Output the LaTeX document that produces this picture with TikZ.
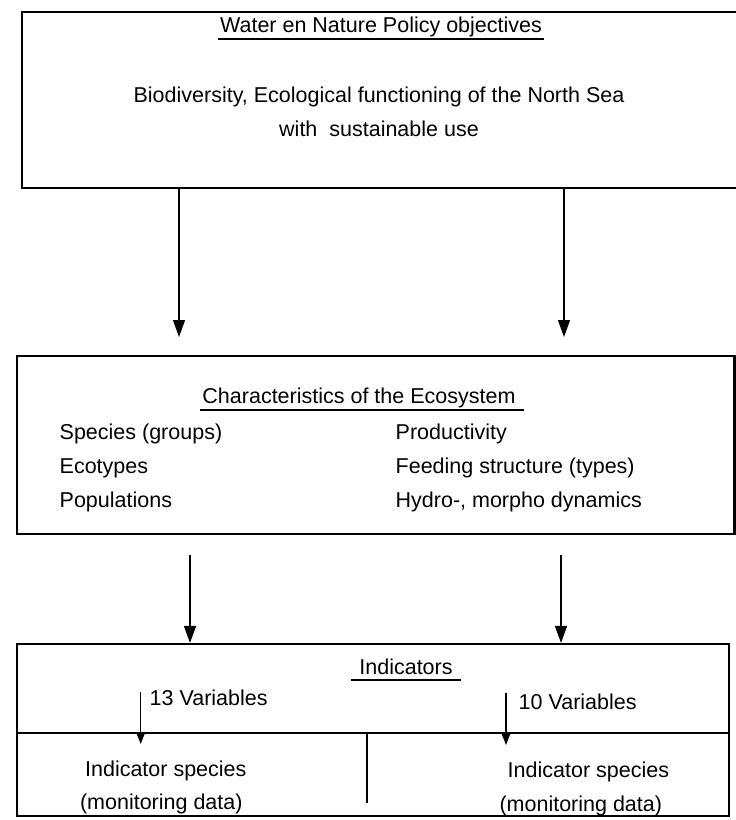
\documentclass[tikz,border=0pt]{standalone}
\usepackage{fontspec}
\setmainfont{Liberation Sans}
\usetikzlibrary{arrows.meta,positioning}

\begin{document}
\begin{tikzpicture}[x=1pt,y=-1pt,>={Triangle[length=17pt,width=12pt]}]
\tikzstyle{panel}=[draw,line width=2.2pt,inner sep=0pt]
\tikzstyle{txt}=[font=\fontsize{21.5}{26}\selectfont,inner sep=2pt,text height=15.5pt,text depth=4.5pt]
\tikzstyle{flow}=[->,line width=1.4pt]
\tikzstyle{subflow}=[-{Triangle[length=12pt,width=9pt]},line width=1.4pt]
\tikzstyle{rule}=[line width=2pt]
\useasboundingbox (0,0) rectangle (736,820);

\node[panel,minimum width=719pt,minimum height=176pt] (policy) at (381.5,100) {};
\node[txt,anchor=base] (ptitle) at (381,32) {Water en Nature Policy objectives};
\node[txt,anchor=base] (pline1) at (379,102) {Biodiversity, Ecological functioning of the North Sea};
\node[txt,below=10.5pt of pline1] (pline2) {with\ \ sustainable use};
\draw[rule] ([yshift=-7pt]ptitle.base west) -- ([yshift=-7pt]ptitle.base east);

\node[panel,minimum width=717.5pt,minimum height=178pt] (chars) at (375.75,445) {};
\node[txt,anchor=base] (ctitle) at (359,403) {Characteristics of the Ecosystem};
\draw[rule] ([yshift=-7pt]ctitle.base west) -- ([xshift=6pt,yshift=-7pt]ctitle.base east);
\node[txt,anchor=base west] (species) at (57.5,439.5) {Species (groups)};
\node[txt,below=9.5pt of species.south west,anchor=north west] (ecotypes) {Ecotypes};
\node[txt,below=9.5pt of ecotypes.south west,anchor=north west] (populations) {Populations};
\node[txt,anchor=base west] (productivity) at (393.5,439.5) {Productivity};
\node[txt,below=9.5pt of productivity.south west,anchor=north west] (feeding) {Feeding structure (types)};
\node[txt,below=9.5pt of feeding.south west,anchor=north west] (hydro) {Hydro-, morpho dynamics};

\node[panel,minimum width=712pt,minimum height=172pt] (ind) at (373,730) {};
\node[txt,anchor=base] (ititle) at (406,674.5) {Indicators};
\draw[rule] ([xshift=-6pt,yshift=-5.5pt]ititle.base west) -- ([xshift=6pt,yshift=-5.5pt]ititle.base east);
\coordinate (sep) at (0,733);
\draw[rule] (ind.west |- sep) -- (ind.east |- sep);
\coordinate (split) at (366.5,803);
\draw[rule] (split |- sep) -- (split);
\node[txt,anchor=base west] (vars13) at (147.5,705.5) {13 Variables};
\node[txt,anchor=base west] (vars10) at (516.5,709) {10 Variables};
\node[txt,anchor=base] (specL) at (165.8,776) {Indicator species};
\node[txt,anchor=base] (monL) at (161.3,809) {(monitoring data)};
\node[txt,anchor=base] (specR) at (588.4,777.5) {Indicator species};
\node[txt,anchor=base] (monR) at (580.8,811) {(monitoring data)};

\coordinate (tipL) at (179,337);
\coordinate (tipR) at (564,337);
\draw[flow] (policy.south -| tipL) -- (tipL);
\draw[flow] (policy.south -| tipR) -- (tipR);
\coordinate (tailL) at (190,555);
\coordinate (tailR) at (561,555);
\draw[flow] (tailL) -- (ind.north -| tailL);
\draw[flow] (tailR) -- (ind.north -| tailR);
\coordinate (v13a) at (140.7,692);
\coordinate (v13b) at (140.7,744);
\draw[subflow] (v13a) -- (v13b);
\coordinate (v10a) at (506,693);
\coordinate (v10b) at (506,745);
\draw[subflow] (v10a) -- (v10b);
\end{tikzpicture}
\end{document}
